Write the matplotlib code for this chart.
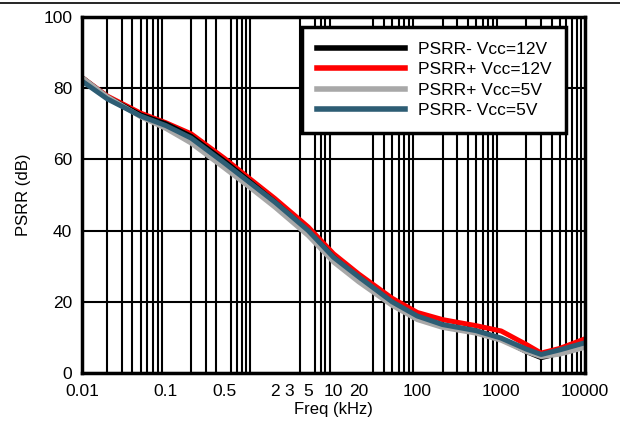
import matplotlib
matplotlib.use('Agg')
import matplotlib.pyplot as plt
from matplotlib.lines import Line2D
from matplotlib.ticker import FixedLocator, NullFormatter

plt.rcParams['font.family'] = ['Liberation Sans', 'DejaVu Sans']

# Data (frequency in kHz, PSRR in dB)
freq = [0.01, 0.02, 0.05, 0.1, 0.2, 0.5, 1, 2, 5, 10, 20, 50, 100,
        200, 500, 1000, 2000, 3000, 5000, 10000]
psrr_neg_12v = [83, 77.5, 72.5, 70, 66.5, 59.5, 53.8, 48, 39.8, 32.5, 26.6, 19.8, 15.7,
                13.4, 11.8, 9.6, 6.0, 4.3, 5.6, 8.0]
psrr_pos_12v = [83, 77.8, 73, 70.3, 67.2, 60.3, 54.6, 49, 41, 33.5, 27.8, 21, 17,
                15, 13.3, 11.8, 8.0, 5.6, 6.9, 9.6]
psrr_pos_5v = [83, 77.6, 72, 68.7, 64.6, 57.6, 52.2, 46.6, 38.6, 31.2, 25.6, 19, 15,
               12.8, 11.2, 9.2, 6.0, 4.6, 5.3, 7.2]
psrr_neg_5v = [82, 77, 72.2, 69.5, 66, 59, 53.5, 48, 40, 32.5, 27, 20, 16,
               13.6, 11.9, 9.8, 6.7, 5.2, 6.5, 8.5]

x_tick_vals = [0.01, 0.1, 0.5, 2, 3, 5, 10, 20, 100, 1000, 10000]
x_tick_labels = ['0.01', '0.1', '0.5', '2', '3', '5', '10', '20', '100', '1000', '10000']
y_ticks = [0, 20, 40, 60, 80, 100]

fig = plt.figure(figsize=(6.2, 4.21), dpi=100)
ax = fig.add_axes([82 / 620, 48 / 421, 503 / 620, 356 / 421])

# thin rule across the top of the figure
fig.add_artist(Line2D([0, 1], [1 - 2.5 / 421, 1 - 2.5 / 421], color='black', lw=1.2,
                      transform=fig.transFigure))

lw = 3.6
ax.plot(freq, psrr_pos_12v, color='#ff0000', lw=lw, label='PSRR+ Vcc=12V', zorder=3)
ax.plot(freq, psrr_neg_12v, color='black', lw=lw, label='PSRR- Vcc=12V', zorder=4)
ax.plot(freq, psrr_pos_5v, color='#a8a8a8', lw=lw, label='PSRR+ Vcc=5V', zorder=4.5)
ax.plot(freq, psrr_neg_5v, color='#2d5d74', lw=lw, label='PSRR- Vcc=5V', zorder=5)

ax.set_xscale('log')
ax.set_xlim(0.01, 10000)
ax.set_ylim(0, 100)

# grid at every 1..9 position of each decade
grid_x = [m * 10.0 ** e for e in range(-2, 4) for m in range(1, 10)] + [10000]
ax.xaxis.set_minor_locator(FixedLocator(grid_x))
ax.xaxis.set_minor_formatter(NullFormatter())
ax.set_xticks(x_tick_vals)
ax.set_xticklabels(x_tick_labels)
ax.set_yticks(y_ticks)
ax.grid(True, which='minor', axis='x', color='black', lw=1.5)
ax.grid(True, which='major', axis='y', color='black', lw=1.5)
ax.tick_params(which='both', length=0, labelsize=12.5)
ax.tick_params(axis='x', pad=8)
ax.tick_params(axis='y', pad=7)
for s in ax.spines.values():
    s.set_linewidth(2.5)
    s.set_zorder(6)

ax.set_xlabel('Freq (kHz)', fontsize=12, labelpad=2)
ax.set_ylabel('PSRR (dB)', fontsize=12, labelpad=9)

handles, labels = ax.get_legend_handles_labels()
order = [1, 0, 2, 3]
leg = ax.legend([handles[i] for i in order], [labels[i] for i in order],
                loc='upper right', bbox_to_anchor=(0.962, 0.972), fontsize=12.5,
                handlelength=5.1, handletextpad=0.7, labelspacing=0.3,
                borderpad=0.85, borderaxespad=0, fancybox=False, framealpha=1,
                edgecolor='black')
leg.get_frame().set_linewidth(2.5)
leg.set_zorder(7)
for h in leg.get_lines():
    h.set_linewidth(4)

fig.savefig('out.png', dpi=100)
